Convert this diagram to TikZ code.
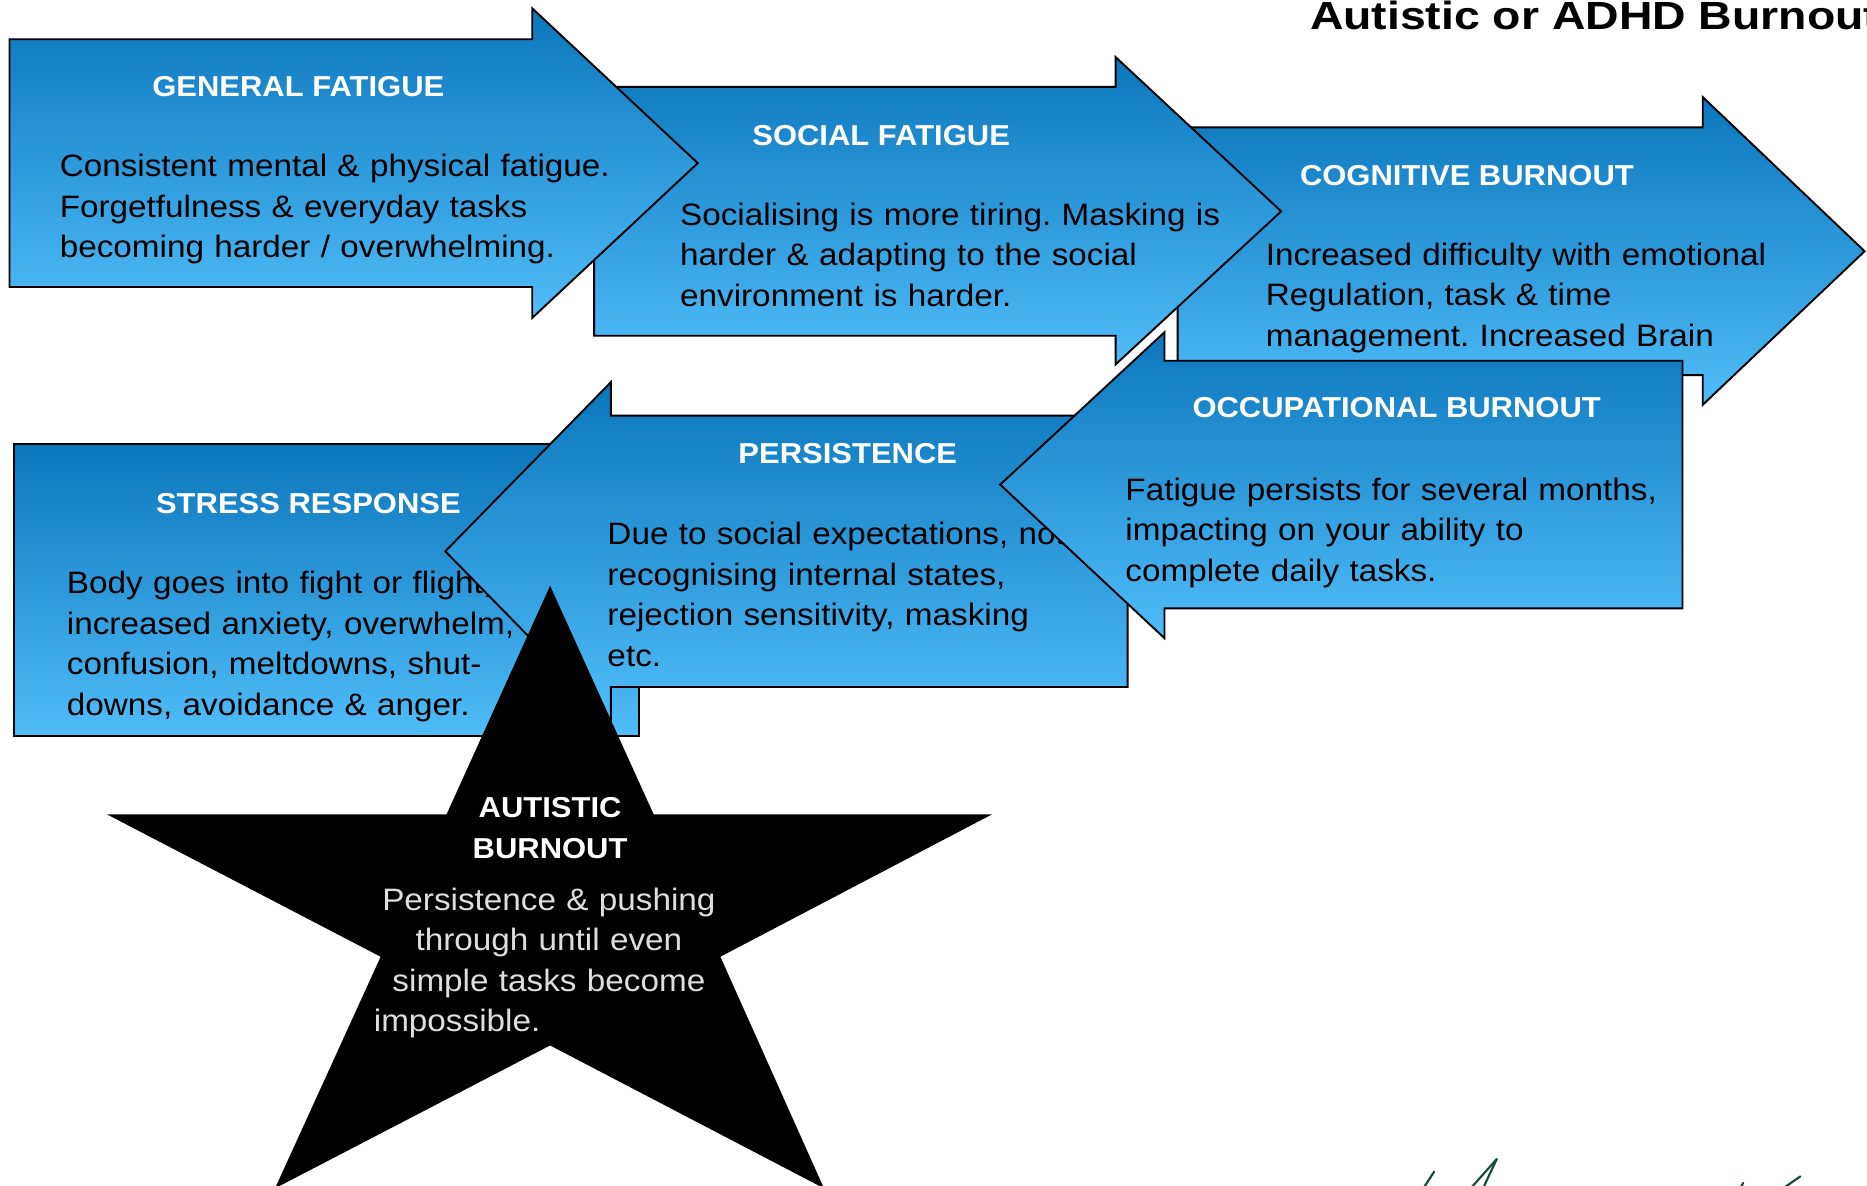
\documentclass[tikz,border=0pt]{standalone}
\usepackage{fontspec}
\setmainfont{Liberation Sans}[FakeStretch=1.075]
\newfontfamily\bannerfont{Liberation Sans}[FakeStretch=1.18]
\usepackage{tikz}
\frenchspacing
\definecolor{stagetop}{RGB}{12,118,188}
\definecolor{stagebottom}{RGB}{80,188,248}
\definecolor{stargrey}{RGB}{222,222,222}
\definecolor{ink}{RGB}{28,74,54}
\tikzset{
	every node/.style={
		font=\fontsize{26}{34}\selectfont,
		inner sep=0pt
	},
	stage/.style={
		top color=stagetop,
		bottom color=stagebottom,
		draw=black,
		line width=1.6pt
	},
	heading/.style={
		anchor=base,
		text=white,
		font=\bfseries\fontsize{24.2}{34.4}\selectfont
	},
	body/.style={
		anchor=base west,
		text width=480pt,
		align=left
	},
	signature/.style={
		draw=ink,
		line width=1.8pt,
		line cap=round
	}
}

\begin{document}
\begin{tikzpicture}[x=1pt,y=-1pt]
	\useasboundingbox (0,0) rectangle (1568,996);

	\node[anchor=base west, font=\bannerfont\bfseries\fontsize{33}{40}\selectfont] (maintitle) at (1100,25) {Autistic or ADHD Burnout};

	% arrows pointing right
	\path[stage] (989,107) -- (1430,107) -- (1430,81.5) -- (1566,211) -- (1430,340) -- (1430,315) -- (989,315) -- cycle;
	\node[heading] (cognitivetitle) at (1232,155.4) {COGNITIVE BURNOUT};
	\node[body] (cognitive) at (1063,222.6) {Increased difficulty with emotional\\Regulation, task \& time\\management. Increased Brain};

	\path[stage] (499,73) -- (937,73) -- (937,48) -- (1076,177.5) -- (937,306) -- (937,282) -- (499,282) -- cycle;
	\node[heading] (socialtitle) at (740,121.8) {SOCIAL FATIGUE};
	\node[body] (social) at (571,189) {Socialising is more tiring. Masking is\\harder \& adapting to the social\\environment is harder.};

	\path[stage] (8,33) -- (447,33) -- (447,7) -- (586,137) -- (447,267) -- (447,241) -- (8,241) -- cycle;
	\node[heading] (generaltitle) at (250.5,81.2) {GENERAL FATIGUE};
	\node[body] (general) at (50,148.4) {Consistent mental \& physical fatigue.\\Forgetfulness \& everyday tasks\\becoming harder / overwhelming.};

	% second row
	\path[stage] (12,373) rectangle (537,618);
	\node[heading] (stresstitle) at (259,431) {STRESS RESPONSE};
	\node[body] (stress) at (56,498.5) {Body goes into fight or flight,\\increased anxiety, overwhelm,\\confusion, meltdowns, shut-\\downs, avoidance \& anger.};

	\path[stage] (947,349) -- (513,349) -- (513,321) -- (374,463) -- (513,605) -- (513,577) -- (947,577) -- cycle;
	\node[heading] (persistencetitle) at (712,389.5) {PERSISTENCE};
	\node[body] (persistence) at (510,457.7) {Due to social expectations, not\\recognising internal states,\\rejection sensitivity, masking\\etc.};

	\path[stage] (1413,303) -- (978,303) -- (978,279) -- (840,407) -- (978,536) -- (978,511) -- (1413,511) -- cycle;
	\node[heading] (occupationaltitle) at (1173,350.8) {OCCUPATIONAL BURNOUT};
	\node[body] (occupational) at (945,420) {Fatigue persists for several months,\\impacting on your ability to\\complete daily tasks.};

	% star
	\fill[black] (462,492) -- (549,684) -- (833,684) -- (605,803.5) -- (692,998) -- (462,878) -- (231,998) -- (319.7,803.5) -- (90,684) -- (375,684) -- cycle;
	\node[heading, align=center] (burnouttitle) at (462,720.8) {AUTISTIC\\BURNOUT};
	\node[anchor=base, text width=320pt, align=center, text=stargrey] (burnout) at (461,764.3) {Persistence \& pushing\\through until even\\simple tasks become\\\makebox[294pt][l]{impossible.}};

	\draw[signature] (1204.5,984) -- (1196,997);
	\draw[signature] (1257,973.5) -- (1236,997);
	\draw[signature] (1257,973.5) -- (1246,997);
	\draw[signature] (1464,993.5) -- (1462,997);
	\draw[signature] (1512,988) -- (1499,997);
\end{tikzpicture}
\end{document}
